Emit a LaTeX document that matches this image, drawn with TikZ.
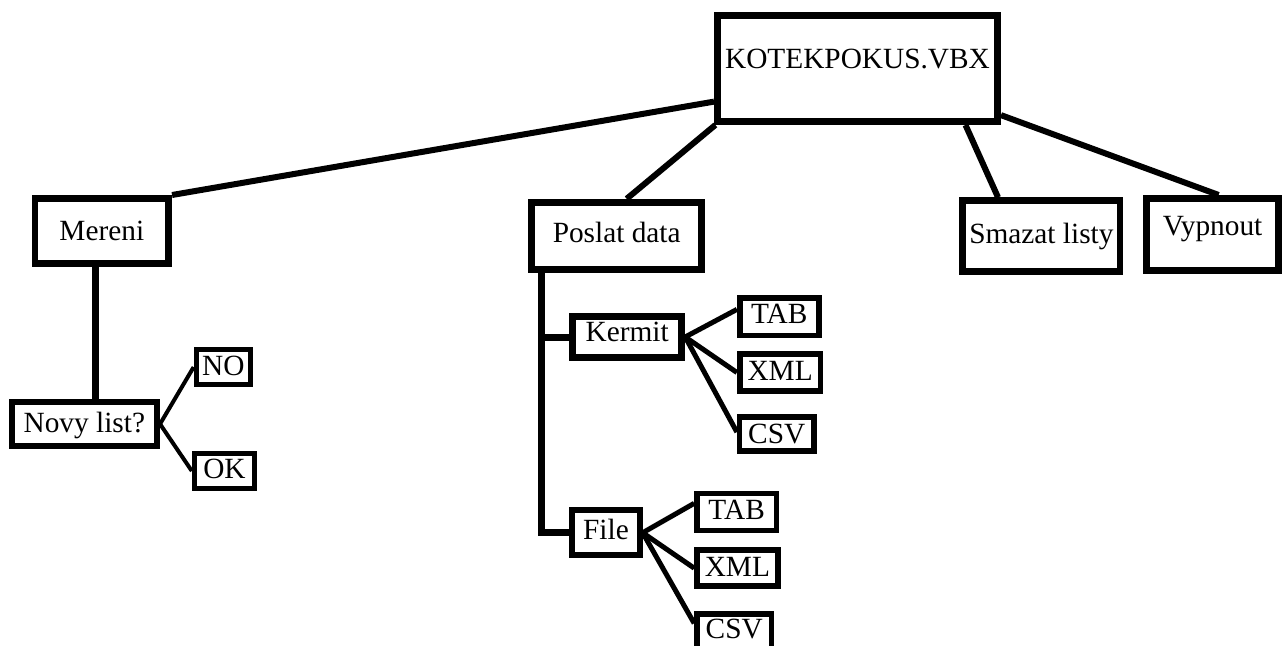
\documentclass[tikz,border=0pt]{standalone}
\usepackage{fontspec}
\setmainfont{Liberation Serif}
\begin{document}
\begin{tikzpicture}[x=0.75pt,y=-0.75pt,
  box/.style={draw=black, rectangle, inner sep=1pt, text height=14.5pt, text=black,
    font=\fontsize{22}{25}\selectfont},
  thickconn/.style={draw=black, line width=4.5pt},
  trunk/.style={draw=black, line width=5.25pt},
  leaf/.style={draw=black, line width=3.75pt},
  thinleaf/.style={draw=black, line width=3pt}]
\useasboundingbox (0,0) rectangle (1282,646);
% boxes
\node[box, line width=5.25pt, minimum width=210pt, minimum height=79.5pt, text depth=14.5pt] (top) at (857.5,68.5) {KOTEKPOKUS.VBX};
\node[box, line width=5pt, minimum width=100.3pt, minimum height=49pt, text depth=0.5pt] (mereni) at (101.85,231) {Mereni};
\node[box, line width=4.5pt, minimum width=109pt, minimum height=33.5pt, text depth=2pt] (novy) at (84.35,424) {Novy list?};
\node[box, line width=4pt, minimum width=40.5pt, minimum height=26.1pt, text depth=2pt] (no) at (223.3,367.1) {NO};
\node[box, line width=4pt, minimum width=45pt, minimum height=26.6pt, text depth=3.8pt] (ok) at (224.5,471) {OK};
\node[box, line width=5.25pt, minimum width=127.5pt, minimum height=50.6pt, text depth=5.3pt] (poslat) at (616.7,236) {Poslat data};
\node[box, line width=5pt, minimum width=118pt, minimum height=53.25pt, text depth=3.5pt] (smazat) at (1041.35,236.2) {Smazat listy};
\node[box, line width=5pt, minimum width=98.9pt, minimum height=54.3pt, text depth=13.5pt] (vypnout) at (1212.6,234.5) {Vypnout};
\node[box, line width=5.25pt, minimum width=81.75pt, minimum height=30.5pt, text depth=7.3pt] (kermit) at (627.2,337) {Kermit};
\node[box, line width=4.2pt, minimum width=59.3pt, minimum height=28.1pt, text depth=4.3pt] (ktab) at (779.25,316.75) {TAB};
\node[box, line width=4.2pt, minimum width=60.6pt, minimum height=28pt, text depth=3.1pt] (kxml) at (780.1,372.5) {XML};
\node[box, line width=4.2pt, minimum width=55.6pt, minimum height=25.6pt, text depth=0.5pt] (kcsv) at (776.75,434.1) {CSV};
\node[box, line width=4.5pt, minimum width=50.6pt, minimum height=33.4pt, text depth=4.5pt] (file) at (605.95,532.75) {File};
\node[box, line width=4.2pt, minimum width=59.5pt, minimum height=27.75pt, text depth=3.9pt] (ftab) at (736.65,512) {TAB};
\node[box, line width=4.2pt, minimum width=60.6pt, minimum height=27.2pt, text depth=2.7pt] (fxml) at (737.4,568.15) {XML};
\node[box, line width=4.2pt, minimum width=55.9pt, minimum height=27.2pt, text depth=4.5pt] (fcsv) at (734.25,631.85) {CSV};
% connectors from root
\draw[thickconn] (top.193.5) -- (mereni.north east);
\draw[thickconn] ([xshift=1pt]top.south west) -- ([xshift=7.5pt]poslat.north);
\draw[thickconn] ([xshift=81pt]top.south) -- ([xshift=-32.5pt]smazat.north);
\draw[thickconn] (top.-18) -- ([xshift=4.5pt]vypnout.north);
% Mereni branch
\coordinate (m1) at ([xshift=-4.4pt]mereni.south);
\draw[trunk] (m1) -- (m1 |- novy.north);
\draw[thinleaf] (novy.east) -- (no.west);
\draw[thinleaf] (novy.east) -- (ok.west);
% Poslat data branch
\coordinate (p1) at ([xshift=10.1pt]poslat.south west);
\draw[trunk] (p1) |- (file.west);
\draw[trunk] (p1 |- kermit.west) -- (kermit.west);
\draw[leaf] (kermit.east) -- ([yshift=5.5pt]ktab.west);
\draw[leaf] (kermit.east) -- (kxml.west);
\draw[leaf] (kermit.east) -- ([yshift=1.5pt]kcsv.west);
\draw[leaf] (file.east) -- ([yshift=6.5pt]ftab.west);
\draw[leaf] (file.east) -- (fxml.west);
\draw[leaf] (file.east) -- ([yshift=6.4pt]fcsv.west);
\end{tikzpicture}
\end{document}
